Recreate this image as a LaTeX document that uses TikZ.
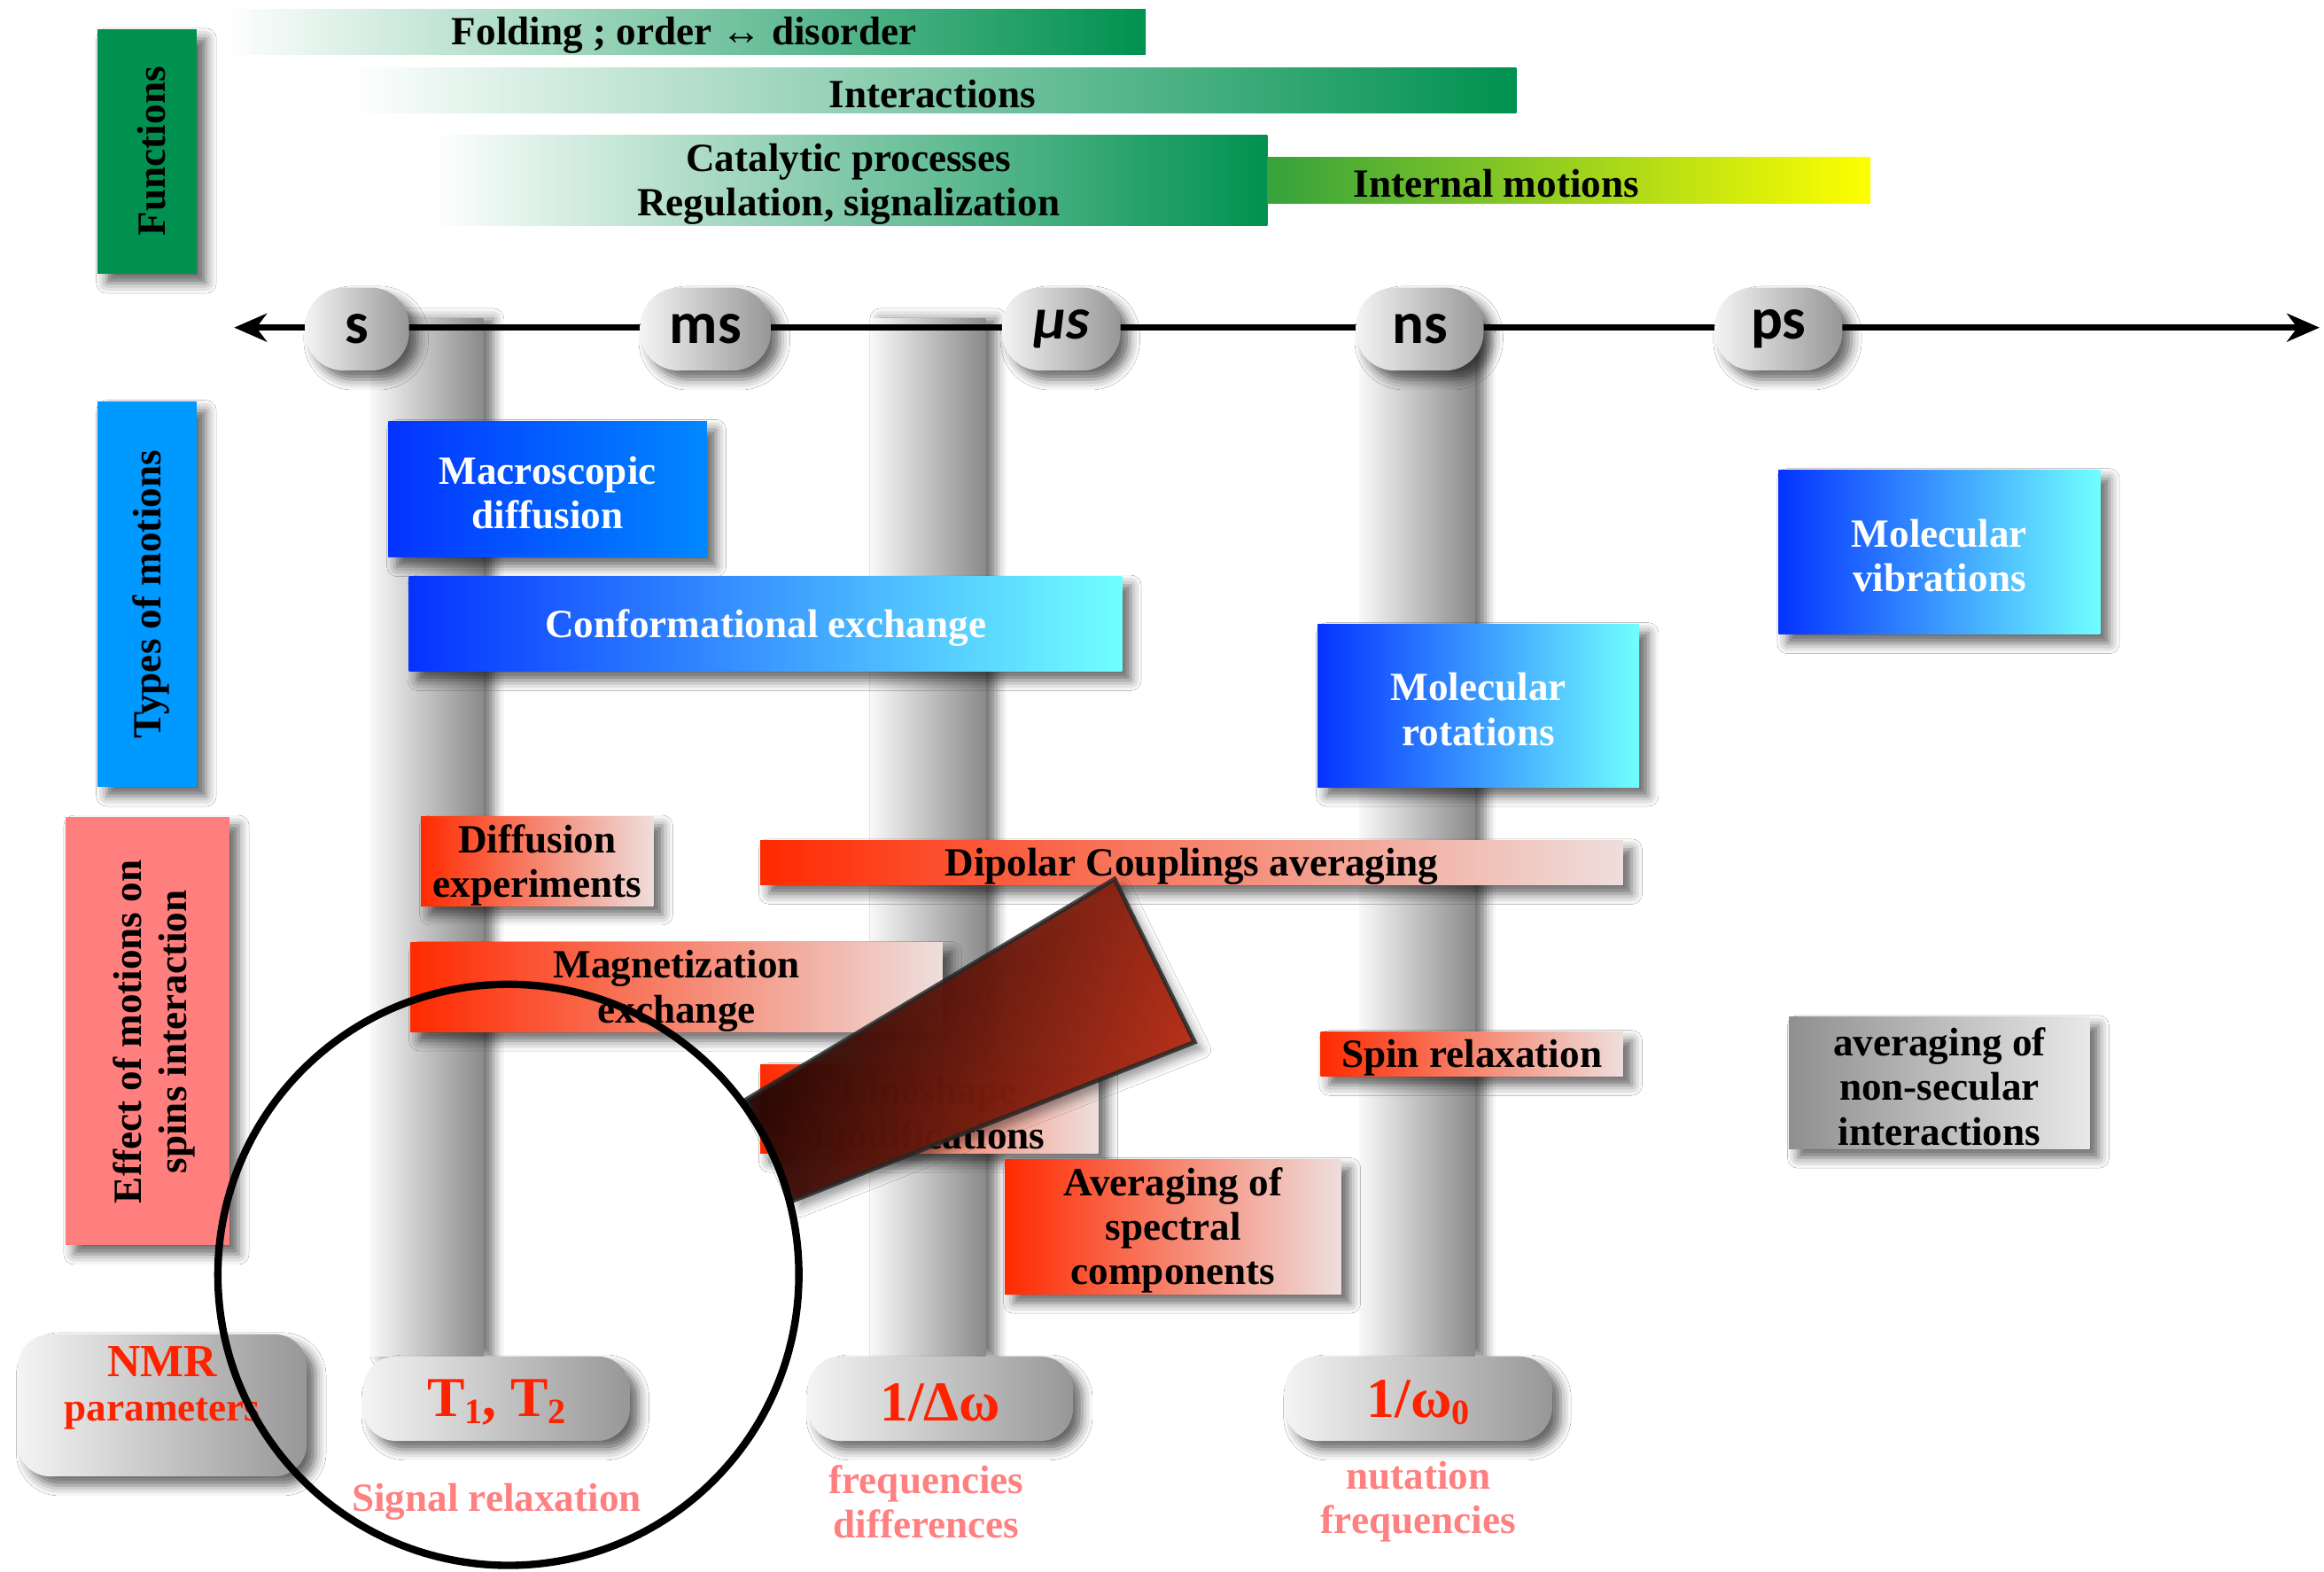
\documentclass[tikz,border=0pt]{standalone}
\usepackage{fontspec}
\setmainfont{Liberation Serif}
\newfontfamily\pillfont{Carlito}
\usetikzlibrary{shadows.blur,arrows.meta}

\definecolor{fgreen}{HTML}{009150}
\definecolor{ylw}{HTML}{FFFF00}
\definecolor{imgreen}{HTML}{35A23C}
\definecolor{tblue}{HTML}{0099FF}
\definecolor{dblue}{HTML}{0533FF}
\definecolor{cyanl}{HTML}{70FFFF}
\definecolor{mblue}{HTML}{0088FF}
\definecolor{salmonbox}{HTML}{FF7F7F}
\definecolor{rvivid}{HTML}{FF2A00}
\definecolor{rpale}{HTML}{EEDEDC}
\definecolor{nmrred}{HTML}{FF2200}
\definecolor{pinklab}{HTML}{FF8080}
\definecolor{pillL}{HTML}{F4F4F4}
\definecolor{pillR}{HTML}{979797}
\definecolor{colL}{HTML}{F8F8F8}
\definecolor{colR}{HTML}{8A8A8A}
\definecolor{handleD}{HTML}{220604}
\definecolor{handleR}{HTML}{D8361A}

\newcommand\labfont{\fontsize{27}{30}\selectfont\bfseries}
\newcommand\pilltext{\pillfont\fontsize{40}{42}\selectfont\bfseries}
\newcommand\nmrfont{\fontsize{38}{40}\selectfont\bfseries}
\newcommand\lowidx[1]{\raisebox{-0.12em}{\fontsize{24}{24}\selectfont #1}}

% box from top-left (x1,y1) to bottom-right (x2,y2), with its label set on top
\newcommand\placebox[8]{%
  \pgfmathsetmacro\bxw{#5-#3}\pgfmathsetmacro\bxh{#6-#4}%
  \node[#2, minimum width=\bxw pt, minimum height=\bxh pt, anchor=north west] (#1) at (#3,#4) {};
  \node[boxtext, #7] (#1-text) at (#1.center) {#8};}

\begin{document}
\begin{tikzpicture}[x=1pt,y=-1pt,
  every node/.style={inner sep=0pt, outer sep=0pt},
  shadowed/.style={blur shadow={shadow xshift=6pt, shadow yshift=-6pt, shadow blur radius=7pt, shadow opacity=60}},
  boxtext/.style={align=center, font=\labfont, yshift=-2.5pt},
  greenbar/.style={left color=white, right color=fgreen},
  bluebox/.style={shadowed, left color=dblue, right color=cyanl},
  redbox/.style={shadowed, left color=rvivid, right color=rpale},
  graybox/.style={shadowed, left color=pillR!95!black, right color=pillL!90!gray},
  column/.style={left color=colL, right color=colR, blur shadow={shadow xshift=7pt, shadow yshift=0pt, shadow blur radius=7pt, shadow opacity=55}},
  timepill/.style={shadowed, rounded corners=26pt, left color=pillL, right color=pillR, font=\pilltext},
  nmrpill/.style={shadowed, rounded corners=22pt, left color=pillL, right color=pillR},
  nmrtext/.style={font=\nmrfont, text=nmrred, yshift=0pt},
  sidelabel/.style={rotate=90, align=center, font=\labfont},
  pinklabel/.style={align=center, text=pinklab, font=\labfont}
]
\useasboundingbox (0,0) rectangle (1568,1060);
\fill[white] (0,0) rectangle (1568,1060);

% ---------- functions ----------
\placebox{fold}{greenbar}{150}{6}{773}{37}{}{Folding ; order ↔ disorder}
\placebox{inter}{greenbar}{235}{46}{1023}{76}{}{Interactions}
\placebox{catal}{greenbar}{290}{91}{855}{152}{}{Catalytic processes\\Regulation, signalization}
\placebox{intmot}{left color=imgreen, right color=ylw}{855}{106}{1262}{137}{xshift=-49pt}{Internal motions}

% ---------- category boxes on the left ----------
\placebox{funcbox}{shadowed, fill=fgreen}{66}{20}{133}{185}{}{}
\node[sidelabel] (functext) at (102,102) {Functions};
\placebox{typebox}{shadowed, fill=tblue}{66}{271}{133}{531}{}{}
\node[sidelabel] (typetext) at (102,401) {Types of motions};
\placebox{effbox}{shadowed, fill=salmonbox}{44}{551}{155}{840}{}{}
\node[sidelabel] (efftext) at (104,696) {Effect of motions on\\spins interaction};

% ---------- vertical columns ----------
\placebox{col1}{column}{250}{215}{326}{915}{}{}
\placebox{col2}{column}{587}{215}{665}{915}{}{}
\placebox{col3}{column}{917}{225}{995}{915}{}{}

% ---------- time axis ----------
\coordinate (axL) at (158,221);
\coordinate (axR) at (1565,221);
\draw[line width=4.2pt, {Stealth[length=22pt,width=19pt,inset=7pt]}-{Stealth[length=22pt,width=19pt,inset=7pt]}] (axL) -- (axR);

\node[timepill, minimum width=70pt, minimum height=56pt] (ts) at (241,222) {s};
\node[timepill, minimum width=88pt, minimum height=56pt] (tms) at (476,222) {ms};
\node[timepill, minimum width=80pt, minimum height=56pt] (tmus) at (716,222) {\itshape μs};
\node[timepill, minimum width=86pt, minimum height=56pt] (tns) at (958,222) {ns};
\node[timepill, minimum width=86pt, minimum height=56pt] (tps) at (1200,222) {ps};

% ---------- types of motions ----------
\placebox{macro}{bluebox, right color=mblue}{262}{284}{477}{376}{text=white}{Macroscopic\\diffusion}
\placebox{conf}{bluebox}{276}{389}{757}{453}{text=white}{Conformational exchange}
\placebox{rot}{bluebox}{889}{421}{1106}{531}{text=white}{Molecular\\rotations}
\placebox{vib}{bluebox}{1200}{317}{1417}{428}{text=white}{Molecular\\vibrations}

% ---------- effects on spins ----------
\placebox{diffexp}{redbox}{284}{551}{441}{611}{}{Diffusion\\experiments}
\placebox{dipolar}{redbox}{513}{567}{1095}{597}{}{Dipolar Couplings averaging}
\placebox{magn}{redbox}{277}{636}{636}{696}{}{Magnetization\\exchange}
\placebox{lineshape}{redbox}{513}{718}{741}{778}{}{Lineshape\\modifications}
\placebox{avgspec}{redbox}{678}{782}{905}{873}{}{Averaging of\\spectral\\components}
\placebox{spinrel}{redbox}{891}{696}{1095}{726}{}{Spin relaxation}
\placebox{nonsec}{graybox}{1207}{686}{1410}{775}{}{averaging of\\non-secular\\interactions}

% ---------- NMR parameters ----------
\placebox{nmr}{nmrpill}{12}{900}{207}{996}{text=nmrred, yshift=14pt}{\fontsize{31}{33}\selectfont NMR\\parameters}
\placebox{tonetwo}{nmrpill}{245}{915}{425}{972}{nmrtext}{T\lowidx{1}, T\lowidx{2}}
\placebox{dw}{nmrpill}{545}{915}{724}{972}{nmrtext}{1/Δω}
\placebox{wzero}{nmrpill}{867}{915}{1047}{972}{nmrtext}{1/ω\lowidx{0}}

\node[pinklabel] (sigrel) at (335,1013) {Signal relaxation};
\node[pinklabel] (freqdiff) at (625,1013) {frequencies\\differences};
\node[pinklabel] (nutfreq) at (957,1013) {nutation\\frequencies};

% ---------- magnifying glass ----------
\coordinate (h1) at (503,742);
\coordinate (h2) at (752,593);
\coordinate (h3) at (806,703);
\coordinate (h4) at (535,810);
\filldraw[line width=3pt, draw=black!85, left color=handleD, right color=handleR, shading angle=70, opacity=0.82,
  blur shadow={shadow xshift=5pt, shadow yshift=-5pt, shadow blur radius=6pt, shadow opacity=40}]
  (h1) -- (h2) -- (h3) -- (h4) -- cycle;
\node[circle, draw, line width=5pt, minimum size=392pt] (lens) at (343,860) {};

\end{tikzpicture}
\end{document}
